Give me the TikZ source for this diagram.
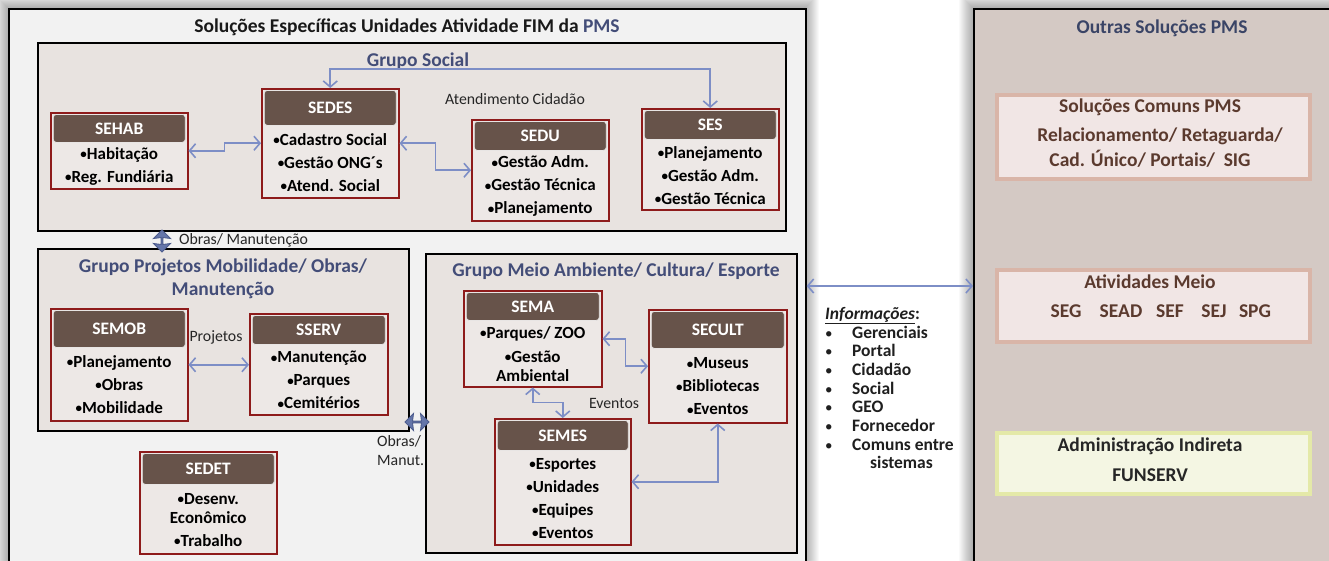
\documentclass[tikz,border=0pt]{standalone}
\usepackage{fontspec}
\setmainfont{Carlito}
\usetikzlibrary{arrows.meta,calc,shapes.arrows}
\definecolor{outerfill}{HTML}{F2F2F2}
\definecolor{groupfill}{HTML}{E8E3E0}
\definecolor{unitfill}{HTML}{EDE8E6}
\definecolor{unitborder}{HTML}{8E1B1B}
\definecolor{headfill}{HTML}{67534A}
\definecolor{gtitle}{HTML}{434D78}
\definecolor{conncol}{HTML}{7D8EC6}
\definecolor{blockcol}{HTML}{6576AA}
\definecolor{blockdark}{HTML}{4E5D8E}
\definecolor{rightfill}{HTML}{D4C9C4}
\definecolor{solborder}{HTML}{D9B5A8}
\definecolor{solfill}{HTML}{F1E6E5}
\definecolor{admborder}{HTML}{E4E9A8}
\definecolor{admfill}{HTML}{F4F6E3}
\definecolor{soltext}{HTML}{5B3A2E}
\definecolor{navy}{HTML}{3A4466}
\newcommand{\bul}{{\fontsize{13}{13}\selectfont\raisebox{0.6pt}{•}}}
\tikzset{
  outerbox/.style={draw=black, line width=1.6pt, inner sep=0pt},
  groupbox/.style={draw=black, line width=1.5pt, fill=groupfill, inner sep=0pt},
  ubox/.style={draw=unitborder, line width=1.5pt, fill=unitfill, inner sep=0pt},
  uhead/.style={fill=headfill, draw=white!85!headfill, line width=0.8pt, rounded corners=3pt, inner sep=0pt,
    text=white, font=\fontsize{17.5}{20}\selectfont\bfseries},
  uitems/.style={align=center, inner sep=0pt, font=\fontsize{17}{19}\selectfont\bfseries},
  gtitlestyle/.style={text=gtitle, font=\fontsize{19.5}{23}\selectfont\bfseries, align=center, inner sep=0pt},
  plainlbl/.style={font=\fontsize{15.8}{18}\selectfont, inner sep=0pt, text=black!85},
  conn/.style={draw=conncol, line width=1.6pt, {Straight Barb[length=6pt,width=14pt]}-{Straight Barb[length=6pt,width=14pt]}},
  blockarrow/.style={double arrow, fill=blockcol, draw=blockdark, line width=0.9pt, inner sep=0pt,
    minimum width=17pt, double arrow head extend=4pt, double arrow head indent=1pt},
  solbox/.style={draw=solborder, line width=3.5pt, fill=solfill, inner sep=0pt},
  admbox/.style={draw=admborder, line width=3.5pt, fill=admfill, inner sep=0pt},
  soltxt/.style={text=soltext, font=\fontsize{19.5}{23}\selectfont\bfseries, inner sep=0pt},
}
\newcommand{\secbox}[8]{%
  \node[ubox, anchor=north west, minimum width=#4pt, minimum height=#5pt] (#1) at (#2,#3) {};
  \node[uhead, anchor=north, minimum width=#4pt-5pt, minimum height=#6pt] (#1h) at ([yshift=-2pt]#1.north) {#7};
  \node[uitems] (#1t) at ($(#1h.south)!0.5!(#1.south)$) {#8};
}
\begin{document}
\begin{tikzpicture}[x=1pt,y=-1pt]
\useasboundingbox (0,0) rectangle (1329,560);
\fill[white] (0,0) rectangle (1329,560);
% shadows
\foreach \i in {1,...,14} {
  \fill[black, opacity=0.024] (8-\i,8-\i) rectangle (805+\i,600);
  \fill[black, opacity=0.024] (973-\i,8-\i) rectangle (1345,600);
}
% outer boxes
\node[outerbox, fill=outerfill, anchor=north west, minimum width=797pt, minimum height=590pt] (solfim) at (8,8) {};
\node[outerbox, fill=rightfill, anchor=north west, minimum width=380pt, minimum height=590pt] (outras) at (973,8) {};

\node[inner sep=0pt, font=\fontsize{19.5}{22}\selectfont\bfseries, text=black!90] (title) at (407,27)
  {Soluções Específicas Unidades Atividade FIM da \textcolor{gtitle}{PMS}};

% groups
\node[groupbox, anchor=north west, minimum width=748pt, minimum height=188pt] (gsocial) at (37,42) {};
\node[gtitlestyle] (gsocialt) at (418,61) {Grupo Social};
\node[groupbox, anchor=north west, minimum width=371pt, minimum height=182pt] (gproj) at (37,248) {};
\node[gtitlestyle] (gprojt) at (223,279) {Grupo Projetos Mobilidade/ Obras/\\Manutenção};
\node[groupbox, anchor=north west, minimum width=371pt, minimum height=299pt] (gmeio) at (425,253) {};
\node[gtitlestyle] (gmeiot) at (616,271) {Grupo Meio Ambiente/ Cultura/ Esporte};

% units
\secbox{sehab}{50}{112}{137}{76}{28}{SEHAB}{\bul Habitação\\[4pt]\bul Reg. Fundiária}
\secbox{sedes}{261}{88}{137}{109}{35}{SEDES}{\bul Cadastro Social\\[4pt]\bul Gestão ONG´s\\[4pt]\bul Atend. Social}
\secbox{sedu}{471}{119}{137}{101}{29}{SEDU}{\bul Gestão Adm.\\[4pt]\bul Gestão Técnica\\[4pt]\bul Planejamento}
\secbox{ses}{641}{108}{137}{101}{29}{SES}{\bul Planejamento\\[4pt]\bul Gestão Adm.\\[4pt]\bul Gestão Técnica}
\secbox{semob}{50}{308}{137}{112}{37}{SEMOB}{\bul Planejamento\\[4pt]\bul Obras\\[4pt]\bul Mobilidade}
\secbox{sserv}{249}{313}{138}{101}{29}{SSERV}{\bul Manutenção\\[4pt]\bul Parques\\[4pt]\bul Cemitérios}
\secbox{sedet}{139}{451}{137}{102}{31}{SEDET}{\bul Desenv.\\Econômico\\[4pt]\bul Trabalho}
\secbox{sema}{463}{290}{138}{96}{28}{SEMA}{\bul Parques/ ZOO\\[5pt]\bul Gestão\\Ambiental}
\secbox{secult}{648}{309}{138}{113}{37}{SECULT}{\bul Museus\\[4pt]\bul Bibliotecas\\[4pt]\bul Eventos}
\secbox{semes}{494}{418}{136}{126}{30}{SEMES}{\bul Esportes\\[4pt]\bul Unidades\\[4pt]\bul Equipes\\[4pt]\bul Eventos}

% labels
\node[plainlbl] (atend) at (515,99) {Atendimento Cidadão};
\node[plainlbl] (projl) at (216,337) {Projetos};
\node[plainlbl] (eventl) at (614,403) {Eventos};
\node[plainlbl, anchor=west] (obral) at (179,240) {Obras/ Manutenção};
\node[plainlbl, anchor=north west, align=left, font=\fontsize{15.8}{19}\selectfont] (obra2l) at (377,435) {Obras/\\Manut.};

% connectors
\draw[conn] (sehab.east) -- ++(36,0) |- (sedes.west);
\draw[conn] (sedes.east) -- ++(36,0) |- (sedu.west);
\draw[conn] (sedes.north) -- ++(0,-19) -| (ses.north);
\draw[conn] (semob.east) -- (semob.east -| sserv.west);
\draw[conn] (sema.east) -- ++(23,0) |- (secult.west);
\draw[conn] (sema.south) -- ++(0,15) -| (semes.north);
\draw[conn] (semes.east) -| (secult.south);
\coordinate (infoy) at (0,286);
\draw[conn] (solfim.east |- infoy) -- (outras.west |- infoy);

% block arrows
\node[blockarrow, minimum height=22pt, shape border rotate=90] (obras1) at (162,241) {};
\node[blockarrow, minimum height=24pt] (obras2) at (417,422) {};

% informacoes
\node[anchor=north west, align=left, inner sep=0pt, font=\fontsize{17.5}{18.7}\selectfont\bfseries, text=black!88] (info) at (825,307)
{\underline{\textit{Informações}}:\\
\makebox[27pt][l]{\mdseries\fontsize{15}{15}\selectfont•}Gerenciais\\
\makebox[27pt][l]{\mdseries\fontsize{15}{15}\selectfont•}Portal\\
\makebox[27pt][l]{\mdseries\fontsize{15}{15}\selectfont•}Cidadão\\
\makebox[27pt][l]{\mdseries\fontsize{15}{15}\selectfont•}Social\\
\makebox[27pt][l]{\mdseries\fontsize{15}{15}\selectfont•}GEO\\
\makebox[27pt][l]{\mdseries\fontsize{15}{15}\selectfont•}Fornecedor\\
\makebox[27pt][l]{\mdseries\fontsize{15}{15}\selectfont•}Comuns entre\\
\hspace{45pt}sistemas};

% right side
\node[text=navy, font=\fontsize{19.5}{23}\selectfont\bfseries, inner sep=0pt] (outrast) at (1162,28) {Outras Soluções PMS};
\node[solbox, anchor=north west, minimum width=313pt, minimum height=84pt] (comuns) at (995,93) {};
\node[soltxt] (comuns1) at (1150,107) {Soluções Comuns PMS};
\node[soltxt] (comuns2) at (1160,136) {Relacionamento/ Retaguarda/};
\node[soltxt] (comuns3) at (1150,159) {Cad. Único/ Portais/\ \ SIG};
\node[solbox, anchor=north west, minimum width=313pt, minimum height=72pt] (meio) at (995,268) {};
\node[soltxt] (meio1) at (1150,282) {Atividades Meio};
\node[soltxt] (seg) at (1066,311) {SEG};
\node[soltxt] (sead) at (1121,311) {SEAD};
\node[soltxt] (sef) at (1170,311) {SEF};
\node[soltxt] (sej) at (1214,311) {SEJ};
\node[soltxt] (spg) at (1255,311) {SPG};
\node[admbox, anchor=north west, minimum width=313pt, minimum height=61pt] (adm) at (995,431) {};
\node[soltxt, text=black!85] (adm1) at (1150,446) {Administração Indireta};
\node[soltxt, text=black!85] (adm2) at (1150,475) {FUNSERV};
\end{tikzpicture}
\end{document}
